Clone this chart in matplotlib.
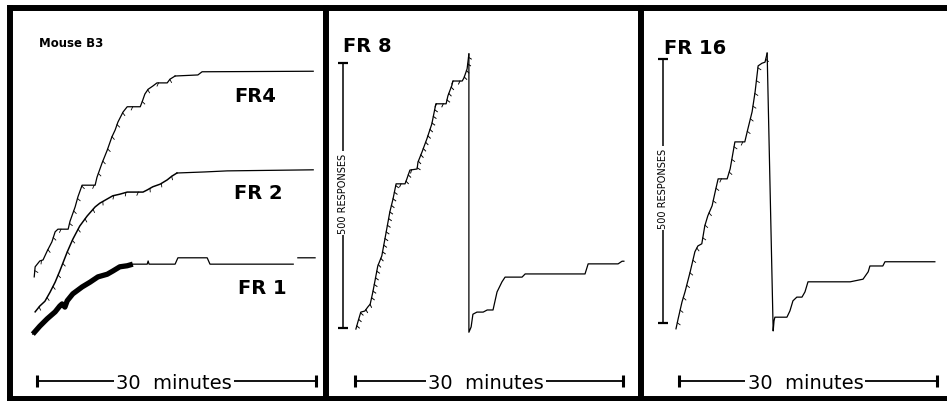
import numpy as np
import matplotlib
matplotlib.use("Agg")
import matplotlib.pyplot as plt
from matplotlib import patheffects as pe

# ------------------------------------------------------------------
# Data: cumulative records (time in minutes, cumulative responses)
# ------------------------------------------------------------------
# Panel 1 (Mouse B3) - three records
fr4_t = [-0.3, -0.2, 0.3, 0.65, 1.1, 1.6, 1.95, 2.25, 3.35, 3.55, 4.1, 4.4, 4.85,
         6.25, 6.45, 7.0, 7.55, 8.05, 8.4, 8.7, 9.25, 9.7, 11.1, 11.3, 11.6, 11.95,
         12.45, 12.9, 14.0, 14.3, 14.85, 17.3, 17.75, 29.7]
fr4_r = [104, 123, 134, 136, 153, 170, 189, 194, 194, 209, 236, 255, 277,
         277, 292, 319, 343, 368, 381, 396, 415, 425, 425, 434, 449, 458,
         464, 470, 470, 477, 483, 485, 491, 492]

fr2_t = [-0.2, 0.3, 0.85, 1.4, 1.95, 2.45, 3.25, 3.85, 4.6, 5.4, 6.25, 6.75, 7.55,
         8.15, 8.9, 9.7, 11.4, 11.85, 12.45, 13.25, 14.0, 14.5, 15.05, 18.05, 20.45, 29.7]
fr2_r = [38, 49, 58, 75, 94, 115, 151, 175, 200, 219, 236, 243, 251,
         257, 260, 264, 264, 268, 274, 279, 287, 294, 300, 302, 304, 306]

fr1_t = [-0.45, 0.3, 1.1, 1.95, 2.45, 2.7, 3.0, 3.25, 3.85, 4.85, 5.7, 6.55, 7.55,
         8.15, 8.9, 9.7, 10.3, 11.85, 11.95, 12.05, 14.85, 15.15, 18.3, 18.6, 27.55,
         np.nan, 28.05, 29.9]
fr1_r = [-4, 11, 25, 38, 49, 53, 47, 59, 72, 85, 94, 104, 109,
         115, 123, 125, 128, 128, 134, 128, 128, 140, 140, 128, 128,
         np.nan, 140, 140]
fr1_dense_end = 10.3      # end of the heavy (densely marked) part of FR 1
panel1_marked_end = 15.1  # reinforcement pips visible up to here on FR4 / FR 2

# Panel 2 (FR 8)
fr8_t = [0.1, 0.35, 0.65, 1.1, 1.45, 1.7, 2.0, 2.55, 3.0, 3.35, 3.9, 4.25, 4.6, 5.6,
         5.8, 6.15, 6.95, 7.05, 7.5, 8.05, 8.6, 9.05, 10.2, 10.4, 10.85, 10.95, 12.0,
         12.2, 12.55, 12.75, 12.75, 13.0, 13.2, 13.65, 14.35, 14.8, 15.45, 15.9, 16.45,
         16.8, 18.7, 19.05, 25.75, 26.1, 29.45, 29.9, 30.1]
fr8_r = [-2, 13, 30, 32, 40, 45, 68, 117, 136, 168, 219, 243, 272, 272,
         281, 298, 300, 313, 332, 357, 385, 423, 423, 438, 458, 466, 466,
         472, 489, 517, -8, 2, 26, 30, 30, 34, 34, 68, 87,
         96, 96, 102, 102, 121, 121, 126, 126]
fr8_reset_index = 29     # pen reset after this point

# Panel 3 (FR 16)
fr16_t = [-0.35, -0.1, 0.35, 0.7, 1.3, 1.85, 2.2, 2.65, 3.0, 3.35, 3.85, 4.2, 4.55,
          5.6, 5.95, 6.5, 7.65, 8.0, 8.5, 8.85, 9.2, 9.65, 10.0, 10.25, 10.95, 11.05,
          11.15, 12.55, 12.9, 13.25, 13.7, 14.3, 14.65, 15.0, 19.9, 21.4, 22.0, 22.2,
          23.7, 23.95, 29.75]
fr16_r = [-11, 8, 40, 59, 97, 135, 146, 150, 184, 203, 222, 248, 273,
          273, 292, 343, 343, 367, 400, 438, 487, 492, 494, 511, -15, 4,
          11, 11, 23, 42, 49, 49, 59, 78, 78, 83, 97, 108,
          108, 116, 116]
fr16_reset_index = 23

# Scale bars and labels
time_bar_minutes = 30
resp_bar_responses = 500
time_bar_label = "30  minutes"
resp_bar_label = "500 RESPONSES"
panel_titles = ["Mouse B3", "FR 8", "FR 16"]
panel1_labels = ["FR4", "FR 2", "FR 1"]

# ------------------------------------------------------------------
# Layout (pixels of the 947 x 402 canvas)
# ------------------------------------------------------------------
W, H, DPI = 947, 402, 100
fig = plt.figure(figsize=(W / DPI, H / DPI), dpi=DPI)
fig.patch.set_facecolor("white")

# box (L, R, T, B), x of minute 0, px per minute, y of 0 responses, px per response
panels = [
    dict(box=(10, 326, 9, 400), x0=37, ppm=9.3, y0=333, ppr=0.53),
    dict(box=(326, 641, 9, 400), x0=355, ppm=8.933, y0=329, ppr=0.53),
    dict(box=(641, 960, 9, 400), x0=679, ppm=8.6, y0=324, ppr=0.528),
]

axes = []
for p in panels:
    L, R, T, B = p["box"]
    ax = fig.add_axes([L / W, 1 - B / H, (R - L) / W, (B - T) / H])
    ax.set_xlim((L - p["x0"]) / p["ppm"], (R - p["x0"]) / p["ppm"])
    ax.set_ylim((p["y0"] - B) / p["ppr"], (p["y0"] - T) / p["ppr"])
    ax.set_xticks([])
    ax.set_yticks([])
    for s in ax.spines.values():
        s.set_linewidth(4.3)
        s.set_color("black")
    ax.set_facecolor("white")
    axes.append(ax)


def d(i, px, py):
    p = panels[i]
    return (px - p["x0"]) / p["ppm"], (p["y0"] - py) / p["ppr"]


LW = 0.9
ink = "black"
pips = [pe.withTickedStroke(spacing=4.8, angle=-115, length=0.5, linewidth=0.7)]
sparse_pips = [pe.withTickedStroke(spacing=9.0, angle=-115, length=0.28, linewidth=0.6)]

# ---- Panel 1 ----
ax = axes[0]
t4, r4 = np.array(fr4_t), np.array(fr4_r)
k = t4 <= panel1_marked_end
ax.plot(t4[k], r4[k], color=ink, lw=LW, path_effects=sparse_pips)
k2 = t4 >= t4[k][-1]
ax.plot(t4[k2], r4[k2], color=ink, lw=LW)

t2, r2 = np.array(fr2_t), np.array(fr2_r)
k = t2 <= panel1_marked_end
ax.plot(t2[k], r2[k], color=ink, lw=LW * 1.2, path_effects=sparse_pips)
k2 = t2 >= t2[k][-1]
ax.plot(t2[k2], r2[k2], color=ink, lw=LW)

ax.plot(fr1_t, fr1_r, color=ink, lw=LW)
t1 = np.array(fr1_t)
m = t1 <= fr1_dense_end
ax.plot(t1[m], np.array(fr1_r)[m], color=ink, lw=3.8, solid_capstyle="butt")

bold = dict(fontweight="bold", color=ink, family="DejaVu Sans")
x, y = d(0, 39, 47)
ax.text(x, y, panel_titles[0], fontsize=8.5, ha="left", va="baseline", **bold)
for lab, (px, py) in zip(panel1_labels, [(255, 95), (258, 192), (262, 287)]):
    x, y = d(0, px, py + 7)
    ax.text(x, y, lab, fontsize=14, ha="center", va="baseline", **bold)

# ---- Panel 2 ----
ax = axes[1]
i0 = fr8_reset_index
ax.plot(fr8_t[:i0 + 1], fr8_r[:i0 + 1], color=ink, lw=LW, path_effects=pips)
ax.plot(fr8_t[i0:], fr8_r[i0:], color=ink, lw=LW)
x, y = d(1, 343, 52)
ax.text(x, y, panel_titles[1], fontsize=14, ha="left", va="baseline", **bold)

# ---- Panel 3 ----
ax = axes[2]
i0 = fr16_reset_index
ax.plot(fr16_t[:i0 + 1], fr16_r[:i0 + 1], color=ink, lw=LW, path_effects=sparse_pips)
ax.plot(fr16_t[i0:], fr16_r[i0:], color=ink, lw=LW)
x, y = d(2, 664, 54)
ax.text(x, y, panel_titles[2], fontsize=14, ha="left", va="baseline", **bold)

# ---- Scale bars ----
for i, ax in enumerate(axes):
    _, yb = d(i, 0, 382)
    ax.plot([0, time_bar_minutes], [yb, yb], color=ink, lw=1.3)
    ax.plot([0, time_bar_minutes], [yb, yb], ls="none", marker="|", ms=9,
            mew=2.2, color=ink)
    _, ybase = d(i, 0, 389)
    ax.text(time_bar_minutes * 0.49, ybase, time_bar_label, fontsize=14,
            ha="center", va="baseline", color=ink, family="DejaVu Sans",
            bbox=dict(fc="white", ec="none", pad=1.5))

for i, pxb in [(1, 343), (2, 663)]:
    ax = axes[i]
    xb, _ = d(i, pxb, 0)
    ax.plot([xb, xb], [0, resp_bar_responses], color=ink, lw=1.1)
    ax.plot([xb, xb], [0, resp_bar_responses], ls="none", marker="_", ms=7,
            mew=1.6, color=ink)
    ax.text(xb, resp_bar_responses * 0.51, resp_bar_label, rotation=90,
            fontsize=7, ha="center", va="center", color=ink, family="DejaVu Sans",
            bbox=dict(fc="white", ec="none", pad=1.5))

fig.savefig("out.png", dpi=DPI, facecolor="white")
